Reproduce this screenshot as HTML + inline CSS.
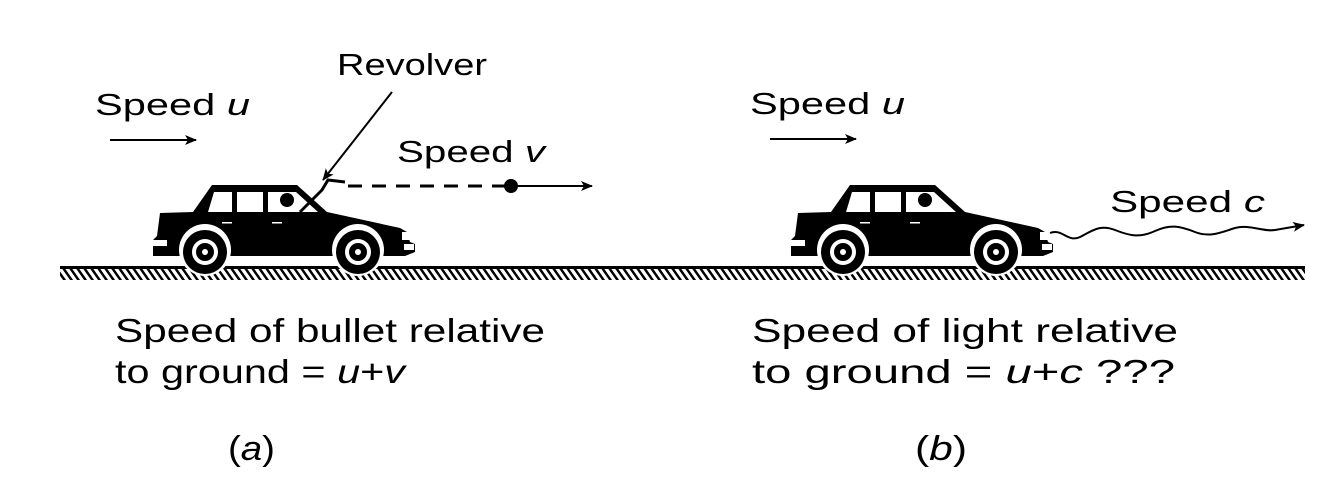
<!DOCTYPE html>
<html><head><style>
html,body{margin:0;padding:0;background:#fff;}
svg{display:block}
text{font-family:"Liberation Sans",Arial,sans-serif;fill:#000;}
</style></head><body>
<svg width="1325" height="493" viewBox="0 0 1325 493" xmlns="http://www.w3.org/2000/svg">
<defs>
<pattern id="h" width="7" height="12" patternUnits="userSpaceOnUse" patternTransform="skewX(35)">
<rect x="0" y="0" width="3" height="12" fill="#000"/>
</pattern>
<marker id="ah" markerWidth="12" markerHeight="10" refX="11" refY="5" orient="auto" markerUnits="userSpaceOnUse">
<path d="M0,0 L12,5 L0,10 L3,5 Z" fill="#000"/>
</marker>
<g id="car">
<path d="M212,185 L297,185 L327,212 L400,228 L407,232 L410,242 L415,244 L415,252 L405,256 L153,256 L153,240 L157,236 L160,213 L193,212 Z" fill="#000"/>
<path d="M214,192 L232,192 L232,212 L208,212 Z" fill="#fff"/>
<rect x="237" y="192" width="26" height="20" fill="#fff"/>
<path d="M268,192 L296,192 L318,212 L268,212 Z" fill="#fff"/>
<rect x="153" y="240" width="14" height="6" fill="#fff"/>
<rect x="402" y="232" width="8" height="8" fill="#fff"/>
<rect x="404" y="244" width="10" height="6" fill="#fff"/>
<rect x="222" y="222" width="10" height="1.5" fill="#fff"/>
<rect x="272" y="222" width="10" height="1.5" fill="#fff"/>
<circle cx="205" cy="250" r="26" fill="#fff"/>
<circle cx="358" cy="250" r="26" fill="#fff"/>
<circle cx="205" cy="252" r="22" fill="#000"/>
<circle cx="358" cy="252" r="22" fill="#000"/>
<circle cx="205" cy="252" r="13" fill="#fff"/>
<circle cx="358" cy="252" r="13" fill="#fff"/>
<circle cx="205" cy="252" r="9" fill="#000"/>
<circle cx="358" cy="252" r="9" fill="#000"/>
<circle cx="205" cy="252" r="3" fill="#fff"/>
<circle cx="358" cy="252" r="3" fill="#fff"/>
</g>
</defs>
<rect x="60" y="266" width="1245" height="3" fill="#000"/>
<rect x="60" y="269" width="1245" height="11" fill="url(#h)"/>

<use href="#car"/>
<circle cx="287" cy="200" r="7" fill="#000"/>
<path d="M300,212 L322,190 L328,180 L345,182" stroke="#000" stroke-width="3" fill="none"/>
<path d="M305,195 L322,212" stroke="#000" stroke-width="3"/>

<g transform="translate(638,0)"><use href="#car"/><circle cx="287" cy="200" r="7" fill="#000"/></g>

<text x="337" y="75" font-size="31" textLength="150" lengthAdjust="spacingAndGlyphs">Revolver</text>
<line x1="392" y1="92" x2="323" y2="180" stroke="#000" stroke-width="2" marker-end="url(#ah)"/>
<text x="95" y="115" font-size="31" textLength="155" lengthAdjust="spacingAndGlyphs">Speed <tspan font-style="italic">u</tspan></text>
<line x1="110" y1="140" x2="196" y2="140" stroke="#000" stroke-width="2" marker-end="url(#ah)"/>
<text x="397" y="162" font-size="31" textLength="148" lengthAdjust="spacingAndGlyphs">Speed <tspan font-style="italic">v</tspan></text>
<line x1="348" y1="186" x2="505" y2="186" stroke="#000" stroke-width="3" stroke-dasharray="14,10"/>
<circle cx="511" cy="186" r="7" fill="#000"/>
<line x1="511" y1="186" x2="592" y2="186" stroke="#000" stroke-width="2" marker-end="url(#ah)"/>

<text x="115" y="342" font-size="33" textLength="430" lengthAdjust="spacingAndGlyphs">Speed of bullet relative</text>
<text x="115" y="383" font-size="33" textLength="290" lengthAdjust="spacingAndGlyphs">to ground = <tspan font-style="italic">u</tspan>+<tspan font-style="italic">v</tspan></text>
<text x="228" y="460" font-size="34" textLength="47" lengthAdjust="spacingAndGlyphs">(<tspan font-style="italic">a</tspan>)</text>

<text x="750" y="114" font-size="31" textLength="155" lengthAdjust="spacingAndGlyphs">Speed <tspan font-style="italic">u</tspan></text>
<line x1="770" y1="139" x2="856" y2="139" stroke="#000" stroke-width="2" marker-end="url(#ah)"/>
<text x="1110" y="212" font-size="31" textLength="155" lengthAdjust="spacingAndGlyphs">Speed <tspan font-style="italic">c</tspan></text>
<path d="M1050,233 C1062,228 1068,243 1080,237 C1092,231 1100,224 1115,230 C1130,236 1140,238 1155,231 C1170,224 1180,226 1195,232 C1210,238 1222,232 1235,228 C1250,224 1262,232 1275,230 L1304,225" stroke="#000" stroke-width="2" fill="none" marker-end="url(#ah)"/>

<text x="752" y="342" font-size="33" textLength="426" lengthAdjust="spacingAndGlyphs">Speed of light relative</text>
<text x="752" y="383" font-size="33" textLength="423" lengthAdjust="spacingAndGlyphs">to ground = <tspan font-style="italic">u</tspan>+<tspan font-style="italic">c</tspan> ???</text>
<text x="915" y="460" font-size="34" textLength="52" lengthAdjust="spacingAndGlyphs">(<tspan font-style="italic">b</tspan>)</text>
</svg>
</body></html>
